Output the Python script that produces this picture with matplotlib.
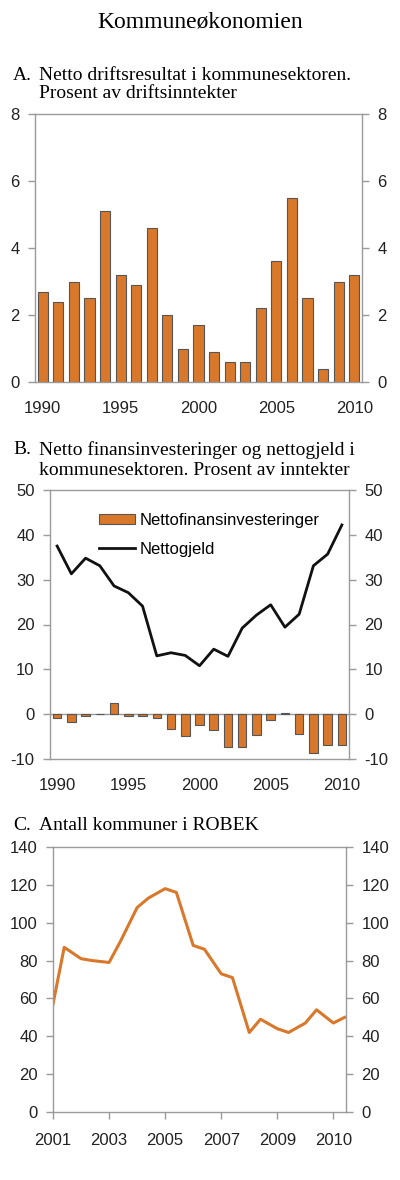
import numpy as np
import matplotlib
matplotlib.use("Agg")
from matplotlib import pyplot as plt

# Panel A: netto driftsresultat, prosent av driftsinntekter
aar_a = list(range(1990, 2011))
driftsresultat = [2.7, 2.4, 3.0, 2.5, 5.1, 3.2, 2.9, 4.6, 2.0, 1.0, 1.7,
                  0.9, 0.6, 0.6, 2.2, 3.6, 5.5, 2.5, 0.4, 3.0, 3.2]

# Panel B: nettofinansinvesteringer og nettogjeld
aar_b = list(range(1990, 2011))
finansinv = [-0.8, -1.8, -0.3, 0.0, 2.6, -0.3, -0.4, -0.8, -3.2, -4.8, -2.5,
             -3.6, -7.3, -7.4, -4.7, -1.4, 0.3, -4.5, -8.7, -6.9, -6.9]
nettogjeld = [37.5, 31.3, 34.8, 33.1, 28.6, 27.1, 24.1, 13.0, 13.7, 13.1, 10.8,
              14.5, 12.9, 19.2, 22.1, 24.4, 19.4, 22.3, 33.1, 35.7, 42.2]

# Panel C: antall kommuner i ROBEK (to observasjoner pr. aar)
tid_c = [2001.0, 2001.4, 2002.0, 2002.4, 2003.0, 2003.4, 2004.0, 2004.4,
         2005.0, 2005.4, 2006.0, 2006.4, 2007.0, 2007.4, 2008.0, 2008.4,
         2009.0, 2009.4, 2010.0, 2010.4, 2011.0, 2011.4]
robek = [57, 87, 81, 80, 79, 90, 108, 113, 118, 116, 88, 86, 73, 71,
         42, 49, 44, 42, 47, 54, 47, 50]
tick_c = [2001, 2003, 2005, 2007, 2009, 2011]
tick_c_tekst = ['2001', '2003', '2005', '2007', '2009', '2010']

ORANSJE = '#D9782B'
GRAA = '#9a9a9a'
SERIF = 'Liberation Serif'
plt.rcParams['font.family'] = ['Liberation Sans', 'DejaVu Sans']
plt.rcParams['axes.unicode_minus'] = False

W, H = 400, 1180
fig = plt.figure(figsize=(W / 100, H / 100), dpi=100)


def akse(x0, y0, x1, y1):
    # pikselkoordinater (topp-venstre origo) -> figurkoordinater
    return fig.add_axes([x0 / W, 1 - y1 / H, (x1 - x0) / W, (y1 - y0) / H])


def stil(ax):
    for s in ax.spines.values():
        s.set_color(GRAA)
        s.set_linewidth(1.0)
    ax.tick_params(axis='y', which='both', left=True, right=True,
                   labelleft=True, labelright=True, direction='out',
                   length=5, width=1, color=GRAA, labelsize=12, pad=6,
                   labelcolor='#222222')
    ax.tick_params(axis='x', labelsize=12, labelcolor='#222222')


fig.text(0.5, 1 - 22 / H, 'Kommuneøkonomien', family=SERIF, fontsize=17,
         ha='center', va='center')

# --- A ---
fig.text(13 / W, 1 - 75 / H, 'A.', family=SERIF, fontsize=14, va='center')
fig.text(39 / W, 1 - 75 / H, 'Netto driftsresultat i kommunesektoren.',
         family=SERIF, fontsize=14, va='center')
fig.text(39 / W, 1 - 94 / H, 'Prosent av driftsinntekter',
         family=SERIF, fontsize=14, va='center')
ax1 = akse(35, 114, 362, 382)
ax1.bar(aar_a, driftsresultat, width=0.65, color=ORANSJE,
        edgecolor='#555555', linewidth=0.8)
ax1.set_ylim(0, 8)
ax1.set_yticks([0, 2, 4, 6, 8])
ax1.set_xlim(1989.5, 2010.5)
ax1.set_xticks([1990, 1995, 2000, 2005, 2010])
stil(ax1)
ax1.tick_params(axis='x', length=0, pad=14)

# --- B ---
fig.text(13 / W, 1 - 450 / H, 'B.', family=SERIF, fontsize=14, va='center')
fig.text(39 / W, 1 - 450 / H, 'Netto finansinvesteringer og nettogjeld i',
         family=SERIF, fontsize=14, va='center')
fig.text(39 / W, 1 - 470 / H, 'kommunesektoren. Prosent av inntekter',
         family=SERIF, fontsize=14, va='center')
ax2 = akse(50, 490, 349, 759)
stolper = ax2.bar(aar_b, finansinv, width=0.6, color=ORANSJE,
                  edgecolor='#555555', linewidth=0.8,
                  label='Nettofinansinvesteringer')
linje, = ax2.plot(aar_b, nettogjeld, color='#111111', linewidth=2.0,
                  label='Nettogjeld')
ax2.axhline(0, color=GRAA, linewidth=1.0, zorder=0)
ax2.set_ylim(-10, 50)
ax2.set_yticks([-10, 0, 10, 20, 30, 40, 50])
ax2.set_xlim(1989.5, 2010.5)
ax2.set_xticks([1990, 1995, 2000, 2005, 2010])
stil(ax2)
ax2.tick_params(axis='x', length=0, pad=14)
ax2.legend(handles=[stolper, linje], loc='upper left',
           bbox_to_anchor=(0.163, 0.915), frameon=False, fontsize=12,
           handlelength=2.2, handleheight=0.6, handletextpad=0.25,
           labelspacing=0.85, borderaxespad=0, borderpad=0)

# --- C ---
fig.text(13 / W, 1 - 825 / H, 'C.', family=SERIF, fontsize=14, va='center')
fig.text(39 / W, 1 - 825 / H, 'Antall kommuner i ROBEK',
         family=SERIF, fontsize=14, va='center')
ax3 = akse(53, 847, 346, 1112)
ax3.plot(tid_c, robek, color=ORANSJE, linewidth=2.2)
ax3.set_ylim(0, 140)
ax3.set_yticks(range(0, 141, 20))
ax3.set_xlim(2001, 2011.45)
ax3.set_xticks(tick_c)
ax3.set_xticklabels(tick_c_tekst)
stil(ax3)
ax3.tick_params(axis='x', direction='out', length=5, width=1, color=GRAA,
                pad=10)

fig.savefig('out.png', dpi=100)
